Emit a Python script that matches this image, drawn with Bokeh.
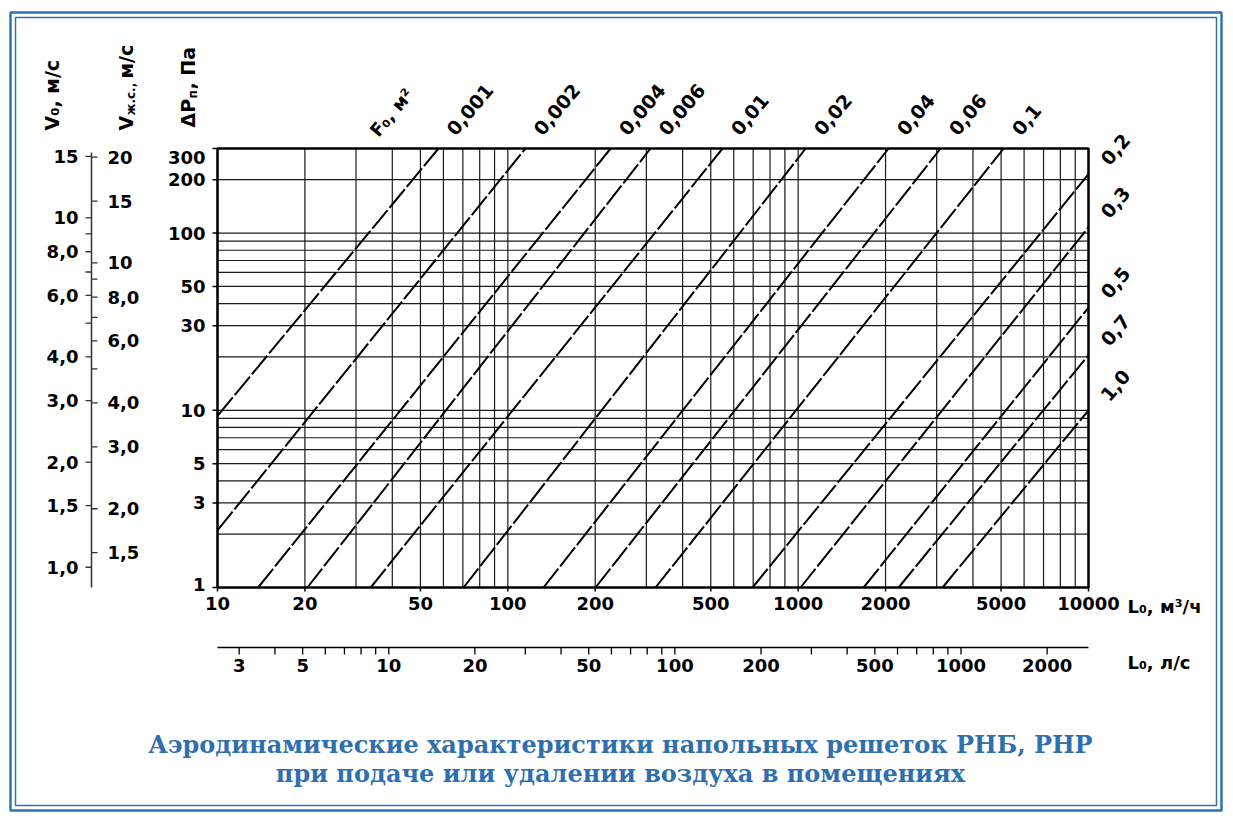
import math
from bokeh.plotting import figure
from bokeh.models import Range1d, LogScale, ColumnDataSource
from bokeh.embed import file_html
from bokeh.resources import INLINE
from bokeh.core.properties import value

# ---------------- data ----------------
f0_labels = ["0,001", "0,002", "0,004", "0,006", "0,01", "0,02", "0,04", "0,06", "0,1",
             "0,2", "0,3", "0,5", "0,7", "1,0"]
L_start = [10, 10, 13.8, 20.4, 33.7, 70.4, 132.7, 200.5, 322.7, 696.5, 1019, 1680, 2218, 3143]
dP_start = [9.3, 2.1, 1, 1, 1, 1, 1, 1, 1, 1, 1, 1, 1, 1]
L_end = [57.7, 115, 226, 310, 549, 1061, 2048, 3094, 5101, 10000, 10000, 10000, 10000, 10000]
dP_end = [300, 300, 300, 300, 300, 300, 300, 300, 300, 215, 108, 38, 20.5, 10]

L_lim = [10, 10000]          # L0, m3/h axis limits
dP_lim = [1, 300]            # dPп, Pa axis limits
ls_lim = [2.52, 2790]        # L0, l/s axis limits (as drawn)
v0_lim = [0.875, 15.8]       # V0, m/s scale limits
vjc_lim = [1.194, 21.16]     # Vж.с., m/s scale limits

L_m3h_ticks = [10, 20, 50, 100, 200, 500, 1000, 2000, 5000, 10000]
L_m3h_labels = ["10", "20", "50", "100", "200", "500", "1000", "2000", "5000", "10000"]
L_m3h_minor = [30, 40, 60, 70, 80, 90, 300, 400, 600, 700, 800, 900,
               3000, 4000, 6000, 7000, 8000, 9000]

L_ls_ticks = [3, 5, 10, 20, 50, 100, 200, 500, 1000, 2000]
L_ls_labels = ["3", "5", "10", "20", "50", "100", "200", "500", "1000", "2000"]
L_ls_minor = [4, 6, 7, 8, 9, 30, 40, 60, 70, 80, 90, 300, 400, 600, 700, 800, 900]

dP_ticks = [1, 3, 5, 10, 30, 50, 100, 200, 300]
dP_labels = ["1", "3", "5", "10", "30", "50", "100", "200", "300"]
dP_minor = [2, 4, 6, 7, 8, 9, 20, 40, 60, 70, 80, 90]

v0_ticks = [1.0, 1.5, 2.0, 3.0, 4.0, 6.0, 8.0, 10, 15]
v0_labels = ["1,0", "1,5", "2,0", "3,0", "4,0", "6,0", "8,0", "10", "15"]
v0_minor = [5, 7, 9]

vjc_ticks = [1.5, 2.0, 3.0, 4.0, 6.0, 8.0, 10, 15, 20]
vjc_labels = ["1,5", "2,0", "3,0", "4,0", "6,0", "8,0", "10", "15", "20"]
vjc_minor = [5, 7, 9]

title_lines = ["Аэродинамические характеристики напольных решеток РНБ, РНР",
               "при подаче или удалении воздуха в помещениях"]

# ---------------- layout / style ----------------
W, H = 1225, 813
CH_L, CH_R, CH_T, CH_B = 217, 1088, 148, 587   # chart box on the page
V_X = 91                                         # velocity scales line
LS_Y = 647                                       # l/s axis line
FONT = value("DejaVu Sans")
SERIF = value("DejaVu Serif")
TITLE_BLUE = "#2f6fae"
BORDER_BLUE = "#2f72b3"
LBL_ANGLE = math.radians(50)


def log_range_x(lo, hi):
    k = (math.log10(hi) - math.log10(lo)) / (CH_R - CH_L)
    return Range1d(10 ** (math.log10(lo) - k * CH_L), 10 ** (math.log10(hi) + k * (W - CH_R)))


def log_range_y(lo, hi):
    k = (math.log10(hi) - math.log10(lo)) / (CH_B - CH_T)
    return Range1d(10 ** (math.log10(lo) - k * (H - CH_B)), 10 ** (math.log10(hi) + k * CH_T))


p = figure(width=W, height=H, x_range=Range1d(0, W), y_range=Range1d(H, 0),
           x_axis_location=None, y_axis_location=None,
           output_backend="svg", toolbar_location=None, min_border=0)
p.min_border_left = p.min_border_right = p.min_border_top = p.min_border_bottom = 0
p.outline_line_color = None
p.grid.visible = False
p.extra_x_ranges = {"L": log_range_x(*L_lim), "ls": log_range_x(*ls_lim)}
p.extra_x_scales = {"L": LogScale(), "ls": LogScale()}
p.extra_y_ranges = {"dP": log_range_y(*dP_lim), "v0": log_range_y(*v0_lim),
                    "vjc": log_range_y(*vjc_lim)}
p.extra_y_scales = {"dP": LogScale(), "v0": LogScale(), "vjc": LogScale()}

TXT = dict(text_font=FONT, text_font_style="bold", text_color="black")

# ---- grid of the nomogram ----
x_grid = sorted(L_m3h_ticks + L_m3h_minor)
y_grid = sorted(dP_ticks + dP_minor)
p.segment(x0=x_grid, y0=dP_lim[0], x1=x_grid, y1=dP_lim[1], line_color="#1a1a1a",
          line_width=1.2, x_range_name="L", y_range_name="dP")
p.segment(x0=L_lim[0], y0=y_grid, x1=L_lim[1], y1=y_grid, line_color="#1a1a1a",
          line_width=1.2, x_range_name="L", y_range_name="dP")
p.quad(left=[L_lim[0]], right=[L_lim[1]], bottom=[dP_lim[0]], top=[dP_lim[1]],
       fill_color=None, line_color="black", line_width=2.5,
       x_range_name="L", y_range_name="dP")

# ---- characteristic lines ----
src = ColumnDataSource(dict(f0=f0_labels, x0=L_start, y0=dP_start, x1=L_end, y1=dP_end))
p.segment("x0", "y0", "x1", "y1", source=src, line_color="black", line_width=2,
          line_dash="24 3", x_range_name="L", y_range_name="dP")

top_src = ColumnDataSource(dict(text=f0_labels[:9], x=L_end[:9], y=dP_end[:9]))
right_src = ColumnDataSource(dict(text=f0_labels[9:], x=L_end[9:], y=dP_end[9:]))
p.text("x", "y", text="text", source=top_src, angle=LBL_ANGLE, x_offset=12, y_offset=-16,
       text_align="left", text_baseline="middle", text_font_size="19px",
       x_range_name="L", y_range_name="dP", **TXT)
p.text("x", "y", text="text", source=right_src, angle=LBL_ANGLE, x_offset=16, y_offset=-12,
       text_align="left", text_baseline="middle", text_font_size="19px",
       x_range_name="L", y_range_name="dP", **TXT)

# ---- dP axis (left of the chart) ----
p.segment(x0=CH_L - 5, y0=dP_ticks, x1=CH_L, y1=dP_ticks, line_color="black",
          line_width=1.5, y_range_name="dP")
dP_label_dy = [-3, 0, 0, 0, 0, 0, 0, 0, 9]
p.text(x=CH_L - 12, y=dP_ticks, text=dP_labels, y_offset=dP_label_dy, text_align="right",
       text_baseline="middle", text_font_size="18px", y_range_name="dP", **TXT)

# ---- velocity scales ----
p.segment(x0=V_X, y0=CH_T + 4, x1=V_X, y1=CH_B, line_color="#333333", line_width=1.5)
p.segment(x0=V_X - 6, y0=v0_ticks + v0_minor, x1=V_X, y1=v0_ticks + v0_minor,
          line_color="#333333", line_width=1.3, y_range_name="v0")
p.text(x=V_X - 13, y=v0_ticks, text=v0_labels, text_align="right", text_baseline="middle",
       text_font_size="18px", y_range_name="v0", **TXT)
p.segment(x0=V_X, y0=vjc_ticks + vjc_minor, x1=V_X + 6, y1=vjc_ticks + vjc_minor,
          line_color="#333333", line_width=1.3, y_range_name="vjc")
p.text(x=V_X + 16, y=vjc_ticks, text=vjc_labels, text_align="left", text_baseline="middle",
       text_font_size="18px", y_range_name="vjc", **TXT)

# ---- L axes below ----
p.segment(x0=L_m3h_ticks, y0=CH_B, x1=L_m3h_ticks, y1=CH_B + 4, line_color="black",
          line_width=1.5, x_range_name="L")
p.text(x=L_m3h_ticks, y=CH_B + 9, text=L_m3h_labels, text_align="center",
       text_baseline="top", text_font_size="18px", x_range_name="L", **TXT)

p.segment(x0=ls_lim[0], y0=LS_Y, x1=ls_lim[1], y1=LS_Y, line_color="black",
          line_width=1.5, x_range_name="ls")
ls_all = L_ls_ticks + L_ls_minor
p.segment(x0=ls_all, y0=LS_Y, x1=ls_all, y1=LS_Y + 7, line_color="black",
          line_width=1.3, x_range_name="ls")
p.text(x=L_ls_ticks, y=LS_Y + 11, text=L_ls_labels, text_align="center",
       text_baseline="top", text_font_size="18px", x_range_name="ls", **TXT)


# ---- axis titles ----
def label(text, x, y, size="19px", angle=0.0, align="left", baseline="middle",
          font=FONT, color="black", style="bold"):
    p.text(x=[x], y=[y], text=[text], angle=angle, text_align=align,
           text_baseline=baseline, text_font=font, text_font_style=style,
           text_font_size=size, text_color=color)


label("V₀, м/с", 51, 130, angle=math.pi / 2)
label("V", 125, 130, angle=math.pi / 2)
label("ж.с.,", 130, 115, size="12px", angle=math.pi / 2)
label("м/с", 125, 78, angle=math.pi / 2)
label("ΔP", 187, 127, angle=math.pi / 2)
label("п", 192, 98, size="12px", angle=math.pi / 2)
label(", Па", 187, 89, angle=math.pi / 2)
label("F₀, м²", 391, 112, size="18px", angle=LBL_ANGLE, align="center")
label("L₀, м³/ч", 1127, 606, size="18px")
label("L₀, л/с", 1127, 662, size="18px")
label(title_lines[0], 620, 744, size="24px", align="center", font=SERIF, color=TITLE_BLUE)
label(title_lines[1], 620, 773, size="24px", align="center", font=SERIF, color=TITLE_BLUE)

# ---- decorative double frame ----
p.quad(left=[10], right=[1221], top=[12], bottom=[810], fill_color=None,
       line_color=BORDER_BLUE, line_width=2.5)
p.quad(left=[15], right=[1216], top=[17], bottom=[805], fill_color=None,
       line_color=BORDER_BLUE, line_width=1.5)

open("out.html", "w").write(file_html(p, INLINE))
